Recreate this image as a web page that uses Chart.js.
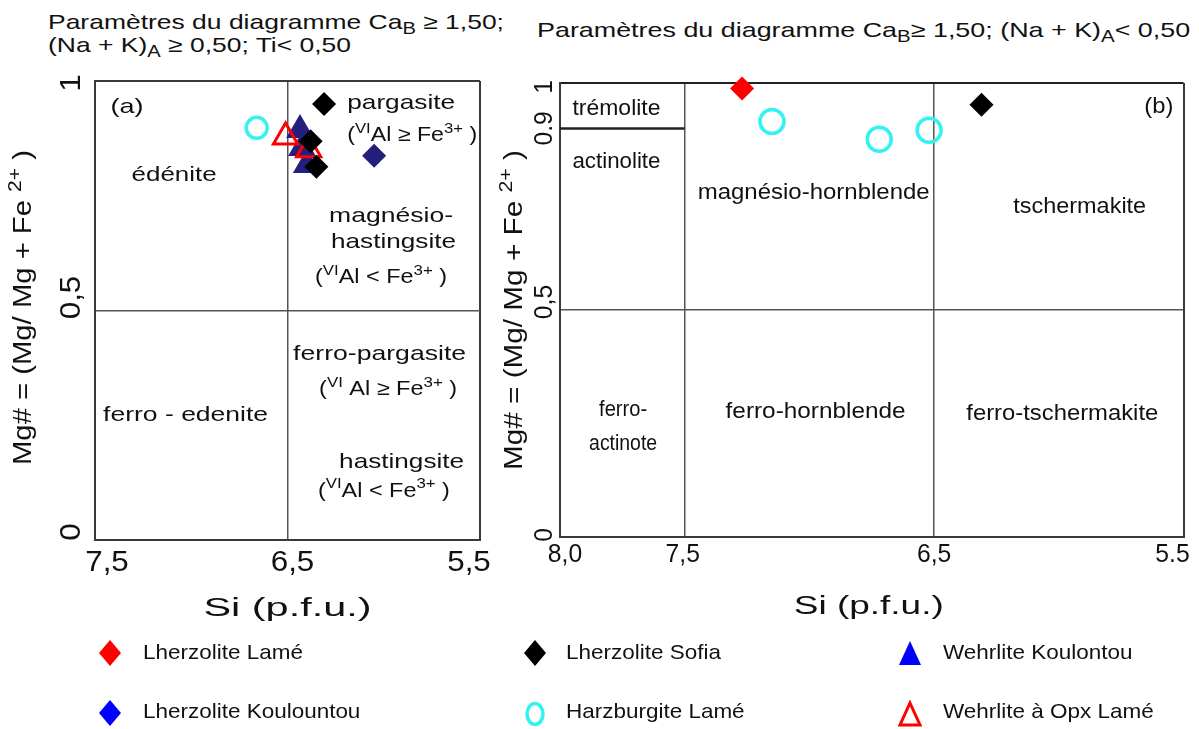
<!DOCTYPE html>
<html lang="fr">
<head>
<meta charset="UTF-8">
<title>Classification des amphiboles calciques</title>
<style>
  html, body { margin: 0; padding: 0; background: #fff; }
  body { position: relative; width: 1199px; height: 729px; overflow: hidden;
         font-family: "Liberation Sans", Arial, sans-serif; color: #111; }
  canvas.panel { position: absolute; left: 0; top: 0; }
  .title { position: absolute; font-size: 21px; line-height: 23px; white-space: nowrap;
           transform-origin: 0 0; }
  .title sub { font-size: 16px; line-height: 0; vertical-align: -5px; }
  .leg { position: absolute; font-size: 21px; line-height: 20px; white-space: nowrap;
         transform-origin: 0 0; transform: scaleX(1.07); }
  .ico { position: absolute; }
</style>
</head>
<body>
  <div class="title" style="left:48px; top:10px; transform:scaleX(1.26)">
    Paramètres du diagramme Ca<sub>B</sub> ≥ 1,50;<br>(Na + K)<sub>A</sub> ≥ 0,50; Ti&lt; 0,50
  </div>
  <div class="title" style="left:537px; top:18px; transform:scaleX(1.28)">
    Paramètres du diagramme Ca<sub>B</sub>≥ 1,50; (Na + K)<sub>A</sub>&lt; 0,50
  </div>

  <canvas id="panelA" class="panel" width="1199" height="729"></canvas>
  <canvas id="panelB" class="panel" width="1199" height="729"></canvas>

  <!-- legend -->
  <svg class="ico" style="left:98px; top:639px" width="24" height="28"><polygon points="12,1 23,14 12,27 1,14" fill="#ff0000"/></svg>
  <div class="leg" style="left:143px; top:642px">Lherzolite Lamé</div>
  <svg class="ico" style="left:523px; top:639px" width="24" height="28"><polygon points="12,1 23,14 12,27 1,14" fill="#000"/></svg>
  <div class="leg" style="left:566px; top:642px">Lherzolite Sofia</div>
  <svg class="ico" style="left:898px; top:640px" width="24" height="26"><polygon points="12,1 23,25 1,25" fill="#0000ff"/></svg>
  <div class="leg" style="left:943px; top:642px">Wehrlite Koulontou</div>

  <svg class="ico" style="left:98px; top:699px" width="24" height="28"><polygon points="12,1 23,14 12,27 1,14" fill="#0000ff"/></svg>
  <div class="leg" style="left:143px; top:701px">Lherzolite Koulountou</div>
  <svg class="ico" style="left:523px; top:700px" width="24" height="28"><ellipse cx="12" cy="14" rx="8" ry="10.5" fill="none" stroke="#33f2f2" stroke-width="3.5"/></svg>
  <div class="leg" style="left:566px; top:701px">Harzburgite Lamé</div>
  <svg class="ico" style="left:898px; top:700px" width="24" height="28"><polygon points="12,3 22,25 2,25" fill="none" stroke="#ff0000" stroke-width="3"/></svg>
  <div class="leg" style="left:943px; top:701px">Wehrlite à Opx Lamé</div>

  <script src="https://cdn.jsdelivr.net/npm/chart.js"></script>
  <script>
    // ---- panel (a): Ca_B >= 1.50, (Na+K)_A >= 0.50 ----
    const siTicksA = [7.5, 6.5, 5.5];
    const siLabelsA = ['7,5', '6,5', '5,5'];
    const mgTicksA = [0, 0.5, 1];
    const mgLabelsA = ['0', '0,5', '1'];

    const sofiaA = [{ x: 6.31, y: 0.95 }, { x: 6.38, y: 0.869 }, { x: 6.35, y: 0.813 }];
    const koulountouA = [{ x: 6.05, y: 0.837 }];
    const harzLameA = [{ x: 6.66, y: 0.898 }];
    const opxLameA = [{ x: 6.51, y: 0.878 }, { x: 6.39, y: 0.85 }];
    const koulontouA = [{ x: 6.435, y: 0.893 }, { x: 6.425, y: 0.854 }, { x: 6.40, y: 0.817 }];

    // ---- panel (b): Ca_B >= 1.50, (Na+K)_A < 0.50 ----
    const siTicksB = [8.0, 7.5, 6.5, 5.5];
    const siLabelsB = ['8,0', '7,5', '6,5', '5.5'];
    const mgTicksB = [0, 0.5, 0.9, 1];
    const mgLabelsB = ['0', '0,5', '0.9', '1'];

    const lameB = [{ x: 7.27, y: 0.988 }];
    const harzLameB = [{ x: 7.15, y: 0.915 }, { x: 6.72, y: 0.876 }, { x: 6.52, y: 0.896 }];
    const sofiaB = [{ x: 6.31, y: 0.952 }];
    const tremoliteLimit = [{ x: 8.0, y: 0.9 }, { x: 7.5, y: 0.9 }];

    const FONT = '"Liberation Sans", Arial, sans-serif';
    const NAVY = '#241f7d';
    const CYAN = '#33f2f2';

    // text made of normal / {sup} / {sub} pieces, optionally stretched to a width
    function drawRich(ctx, items, x, y, size, o = {}) {
      const pieces = [];
      let w = 0;
      for (const it of items) {
        const plain = typeof it === 'string';
        const t = plain ? it : (it.sup !== undefined ? it.sup : it.sub);
        const s = plain ? size : size * 0.72;
        const dy = plain ? 0 : (it.sup !== undefined ? -size * 0.42 : size * 0.3);
        ctx.font = s + 'px ' + FONT;
        const m = ctx.measureText(t).width;
        pieces.push({ t, s, dy, x: w });
        w += m;
      }
      const sx = o.width ? o.width / w : (o.sx || 1);
      ctx.save();
      ctx.translate(x, y);
      if (o.rotate) ctx.rotate(o.rotate);
      ctx.scale(sx, 1);
      const x0 = o.align === 'center' ? -w / 2 : 0;
      ctx.textAlign = 'left';
      ctx.textBaseline = o.baseline || 'alphabetic';
      ctx.fillStyle = o.color || '#111';
      for (const p of pieces) {
        ctx.font = p.s + 'px ' + FONT;
        ctx.fillText(p.t, x0 + p.x, p.dy);
      }
      ctx.restore();
    }

    // ticks, axis titles and field names
    const diagramText = {
      id: 'diagramText',
      beforeDatasetsDraw(chart, args, opts) {
        const { ctx, chartArea: a } = chart;
        const xs = chart.scales.x, ys = chart.scales.y;
        opts.xTicks.forEach((v, i) => {
          drawRich(ctx, [opts.xLabels[i]], xs.getPixelForValue(v) + opts.xNudge[i], a.bottom + opts.xTickGap,
            opts.tickSize, { align: 'center', sx: opts.tickSx, baseline: 'middle' });
        });
        opts.yTicks.forEach((v, i) => {
          drawRich(ctx, [opts.yLabels[i]], a.left - opts.yTickGap, ys.getPixelForValue(v) + opts.yNudge[i],
            opts.tickSize, { align: 'center', sx: opts.tickSx, baseline: 'middle', rotate: -Math.PI / 2 });
        });
        drawRich(ctx, ['Si (p.f.u.)'], (a.left + a.right) / 2 + opts.xTitleShift, a.bottom + opts.xTitleGap,
          26, { align: 'center', width: opts.xTitleWidth });
        drawRich(ctx, ['Mg# = (Mg/ Mg + Fe ', { sup: '2+' }, ' )'], a.left - opts.yTitleGap,
          (a.top + a.bottom) / 2 + opts.yTitleShift, 25,
          { align: 'center', width: opts.yTitleWidth, rotate: -Math.PI / 2 });
        for (const f of opts.fields) {
          drawRich(ctx, f.text, xs.getPixelForValue(f.at[0]), ys.getPixelForValue(f.at[1]), f.size || opts.fieldSize,
            { width: f.w, align: f.align });
        }
      }
    };

    function gridFor(edges) {
      return {
        color: c => (edges.includes(c.tick.value) ? '#3a3a3a' : '#555'),
        lineWidth: c => (edges.includes(c.tick.value) ? 2 : 1.5),
        drawTicks: false
      };
    }

    function makePanel(id, cfg) {
      return new Chart(document.getElementById(id), {
        type: 'scatter',
        data: { datasets: cfg.datasets },
        options: {
          responsive: false,
          animation: false,
          events: [],
          layout: { padding: cfg.padding },
          plugins: { legend: { display: false }, tooltip: { enabled: false }, diagramText: cfg.text },
          scales: {
            x: {
              type: 'linear', reverse: true, min: cfg.xMin, max: cfg.xMax,
              afterBuildTicks: s => { s.ticks = cfg.xTicks.map(v => ({ value: v })); },
              ticks: { display: false },
              grid: gridFor([cfg.xMin, cfg.xMax]),
              border: { color: '#3a3a3a', width: 2 }
            },
            y: {
              type: 'linear', min: 0, max: 1,
              afterBuildTicks: s => { s.ticks = cfg.yTicks.map(v => ({ value: v })); },
              ticks: { display: false },
              grid: Object.assign(gridFor([0, 1]), cfg.yGridExtra || {}),
              border: { color: '#3a3a3a', width: 2 }
            }
          }
        },
        plugins: [diagramText]
      });
    }

    const sup = s => ({ sup: s });

    makePanel('panelA', {
      padding: { left: 95, top: 81, right: 1199 - 480, bottom: 729 - 540 },
      xMin: 5.5, xMax: 7.5, xTicks: siTicksA, yTicks: mgTicksA,
      datasets: [
        { label: 'Lherzolite Sofia', data: sofiaA, pointStyle: 'rectRot', pointRadius: 12,
          backgroundColor: '#000', borderColor: '#000', borderWidth: 0 },
        { label: 'Lherzolite Koulountou', data: koulountouA, pointStyle: 'rectRot', pointRadius: 12,
          backgroundColor: NAVY, borderColor: NAVY, borderWidth: 0 },
        { label: 'Harzburgite Lamé', data: harzLameA, pointStyle: 'circle', pointRadius: 10.5,
          backgroundColor: 'rgba(0,0,0,0)', borderColor: CYAN, borderWidth: 3.5 },
        { label: 'Wehrlite à Opx Lamé', data: opxLameA, pointStyle: 'triangle', pointRadius: 14,
          backgroundColor: 'rgba(0,0,0,0)', borderColor: '#ff0000', borderWidth: 3 },
        { label: 'Wehrlite Koulontou', data: koulontouA, pointStyle: 'triangle', pointRadius: 16,
          backgroundColor: NAVY, borderColor: NAVY, borderWidth: 0 }
      ],
      text: {
        xTicks: siTicksA, xLabels: siLabelsA, xNudge: [12, 5, -11], xTickGap: 23,
        yTicks: mgTicksA, yLabels: mgLabelsA, yNudge: [-8, -13, 2], yTickGap: 23,
        tickSize: 29, tickSx: 1.08,
        xTitleShift: 0, xTitleGap: 76, xTitleWidth: 168,
        yTitleGap: 64, yTitleShift: -3, yTitleWidth: 315,
        fieldSize: 21,
        fields: [
          { text: ['(a)'], at: [7.42, 0.93], w: 33 },
          { text: ['pargasite'], at: [6.19, 0.939], w: 108 },
          { text: ['(', sup('VI'), 'Al ≥ Fe', sup('3+'), ' )'], at: [6.19, 0.869], w: 130, size: 20 },
          { text: ['édénite'], at: [7.31, 0.782], w: 85 },
          { text: ['magnésio-'], at: [6.284, 0.693], w: 124 },
          { text: ['hastingsite'], at: [6.274, 0.636], w: 125 },
          { text: ['(', sup('VI'), 'Al < Fe', sup('3+'), ' )'], at: [6.357, 0.56], w: 132, size: 20 },
          { text: ['ferro-pargasite'], at: [6.471, 0.392], w: 173 },
          { text: ['(', sup('VI'), ' Al ≥ Fe', sup('3+'), ' )'], at: [6.336, 0.316], w: 138, size: 20 },
          { text: ['ferro - edenite'], at: [7.458, 0.259], w: 165 },
          { text: ['hastingsite'], at: [6.232, 0.157], w: 125 },
          { text: ['(', sup('VI'), 'Al < Fe', sup('3+'), ' )'], at: [6.342, 0.094], w: 132, size: 20 }
        ]
      }
    });

    makePanel('panelB', {
      padding: { left: 560, top: 83, right: 1199 - 1186, bottom: 729 - 537 },
      xMin: 5.5, xMax: 8.0, xTicks: siTicksB, yTicks: mgTicksB,
      yGridExtra: {
        color: c => (c.tick.value === 0.9 ? 'rgba(0,0,0,0)' : [0, 1].includes(c.tick.value) ? '#222' : '#555')
      },
      datasets: [
        { label: 'Lherzolite Lamé', data: lameB, pointStyle: 'rectRot', pointRadius: 12, clip: false,
          backgroundColor: '#ff0000', borderColor: '#ff0000', borderWidth: 0 },
        { label: 'Lherzolite Sofia', data: sofiaB, pointStyle: 'rectRot', pointRadius: 12,
          backgroundColor: '#000', borderColor: '#000', borderWidth: 0 },
        { label: 'Harzburgite Lamé', data: harzLameB, pointStyle: 'circle', pointRadius: 12,
          backgroundColor: 'rgba(0,0,0,0)', borderColor: CYAN, borderWidth: 3.5 },
        { label: 'limite trémolite', data: tremoliteLimit, showLine: true, pointRadius: 0,
          borderColor: '#222', borderWidth: 2.5 }
      ],
      text: {
        xTicks: siTicksB, xLabels: siLabelsB, xNudge: [5, -2, 0, -11], xTickGap: 18,
        yTicks: mgTicksB, yLabels: mgLabelsB, yNudge: [-2, -8, 0, 4], yTickGap: 15,
        tickSize: 26, tickSx: 0.95,
        xTitleShift: -3, xTitleGap: 77, xTitleWidth: 150,
        yTitleGap: 38, yTitleShift: 0, yTitleWidth: 320,
        fieldSize: 22,
        fields: [
          { text: ['trémolite'], at: [7.95, 0.93], w: 88 },
          { text: ['actinolite'], at: [7.95, 0.813], w: 88 },
          { text: ['magnésio-hornblende'], at: [7.448, 0.744], w: 232 },
          { text: ['tschermakite'], at: [6.183, 0.714], w: 133 },
          { text: ['(b)'], at: [5.657, 0.933], w: 29 },
          { text: ['ferro-'], at: [7.747, 0.267], w: 48, align: 'center' },
          { text: ['actinote'], at: [7.747, 0.192], w: 68, align: 'center' },
          { text: ['ferro-hornblende'], at: [7.336, 0.262], w: 180 },
          { text: ['ferro-tschermakite'], at: [6.371, 0.258], w: 192 }
        ]
      }
    });
  </script>
</body>
</html>
